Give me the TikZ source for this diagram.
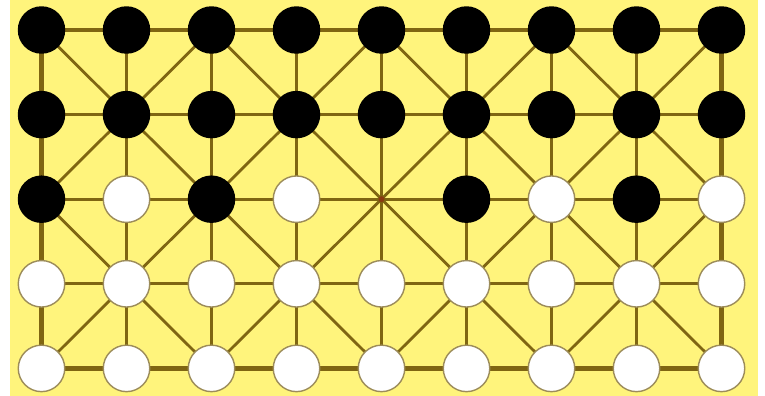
\documentclass[tikz,border=0pt]{standalone}
\usetikzlibrary{positioning}
\definecolor{boardyellow}{HTML}{FFF47C}
\definecolor{lineolive}{HTML}{7F6512}
\definecolor{rimgrey}{HTML}{9C8C5A}
\definecolor{hubred}{HTML}{8A3A10}

\begin{document}
\begin{tikzpicture}[x=0.02cm, y=-0.02cm,
    grid line/.style={draw=lineolive, line width=1.6pt},
    rim line/.style={draw=lineolive, line width=2.8pt},
    blackstone/.style={circle, fill=black, minimum size=0.95cm, inner sep=0pt},
    whitestone/.style={circle, fill=white, draw=rimgrey, line width=0.8pt, minimum size=0.93cm, inner sep=0pt}]
    \useasboundingbox (0,0) rectangle (765,396);
    \fill[boardyellow] (10,0) rectangle (758,396);
    % board points
    \foreach \i in {0,...,8}
        \foreach \j in {0,...,4}
            \coordinate (p-\i-\j) at ({41.5+85*\i},{30+84.6*\j});
    % straight lines
    \foreach \j in {1,2,3}
        \draw[grid line] (p-0-\j) -- (p-8-\j);
    \foreach \i in {1,...,7}
        \draw[grid line] (p-\i-0) -- (p-\i-4);
    % diagonals
    \draw[grid line] (p-0-0) -- (p-4-4);
    \draw[grid line] (p-2-0) -- (p-6-4);
    \draw[grid line] (p-4-0) -- (p-8-4);
    \draw[grid line] (p-0-2) -- (p-2-4);
    \draw[grid line] (p-6-0) -- (p-8-2);
    \draw[grid line] (p-0-2) -- (p-2-0);
    \draw[grid line] (p-0-4) -- (p-4-0);
    \draw[grid line] (p-2-4) -- (p-6-0);
    \draw[grid line] (p-4-4) -- (p-8-0);
    \draw[grid line] (p-6-4) -- (p-8-2);
    \draw[rim line] (p-0-0) rectangle (p-8-4);
    \node[circle, fill=hubred, inner sep=0pt, minimum size=0.12cm] (hub) at (p-4-2) {};
    % stones
    \foreach \i in {0,...,8} {
        \node[blackstone] (s-\i-0) at (p-\i-0) {};
        \node[blackstone] (s-\i-1) at (p-\i-1) {};
        \node[whitestone] (s-\i-3) at (p-\i-3) {};
        \node[whitestone] (s-\i-4) at (p-\i-4) {};
    }
    \foreach \i/\kind in {0/blackstone,1/whitestone,2/blackstone,3/whitestone,5/blackstone,6/whitestone,7/blackstone,8/whitestone}
        \node[\kind] (s-\i-2) at (p-\i-2) {};
\end{tikzpicture}
\end{document}
